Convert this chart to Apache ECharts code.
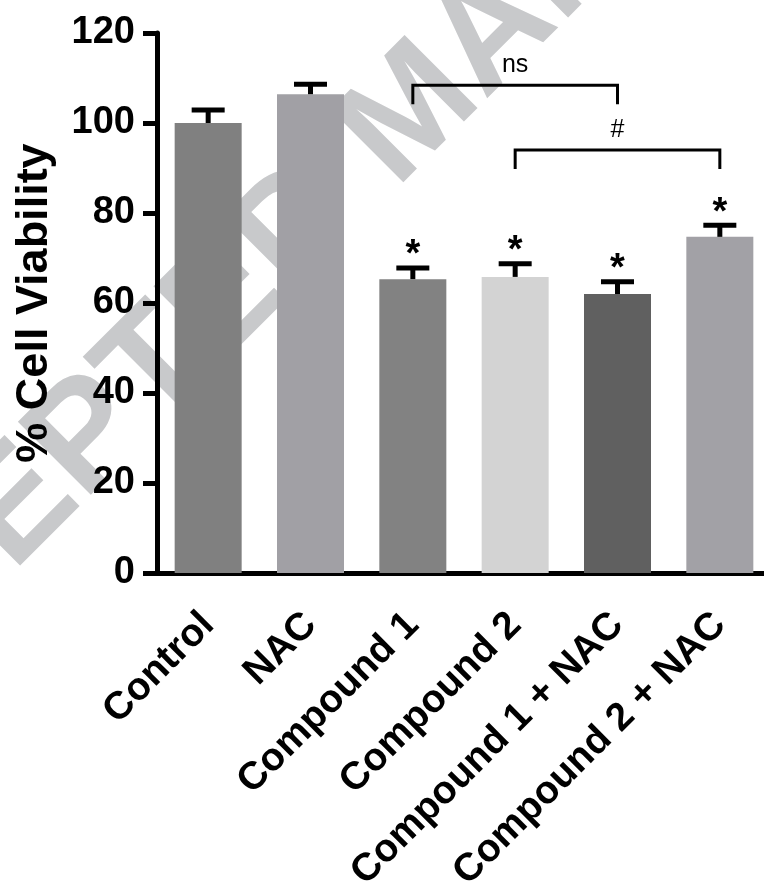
<!DOCTYPE html>
<html>
<head>
<meta charset="utf-8">
<script src="https://cdn.jsdelivr.net/npm/echarts@6/dist/echarts.min.js"></script>
<style>
html,body{margin:0;padding:0;background:#fff;}
#chart{width:764px;height:890px;}
</style>
</head>
<body>
<div id="chart"></div>
<script>
// ---- data ----
const categories = ['Control', 'NAC', 'Compound 1', 'Compound 2', 'Compound 1 + NAC', 'Compound 2 + NAC'];
const viability = [100, 106.4, 65.3, 65.8, 62.0, 74.7];
const sem = [2.9, 2.2, 2.5, 2.9, 2.7, 2.6];
const barColors = ['#808080', '#a1a0a5', '#828282', '#d3d3d3', '#606060', '#a2a1a6'];
const sigMarks = ['', '', '*', '*', '*', '*'];
const bracketFrom = [2, 3];
const bracketTo = [4, 5];
const bracketLevel = [108.4, 94.0];
const bracketLabels = ['ns', '#'];
const yMin = 0, yMax = 120, yStep = 20;

const FONT = "'Liberation Sans', Arial, Helvetica, sans-serif";
const chart = echarts.init(document.getElementById('chart'));

const errData = categories.map((c, i) => [i, viability[i], sem[i]]);
const sigData = categories.map((c, i) => [i, viability[i] + sem[i], sigMarks[i]]);
const brData = bracketFrom.map((f, i) => [f, bracketTo[i], bracketLevel[i], bracketLabels[i]]);

chart.setOption({
  backgroundColor: '#fff',
  animation: false,
  graphic: [{
    type: 'text',
    x: 414, y: 113,
    rotation: Math.PI / 4,
    z: -100,
    silent: true,
    style: {
      text: 'ACCEPTED MANUSCRIPT',
      fontSize: 150,
      fontWeight: 'bold',
      fontFamily: FONT,
      fill: '#c8c9cb',
      align: 'center',
      verticalAlign: 'middle'
    }
  }],
  grid: { left: 157, top: 33, width: 614, height: 540, containLabel: false, outerBoundsMode: 'none' },
  xAxis: {
    type: 'category',
    data: categories,
    axisLine: { lineStyle: { color: '#000', width: 5 } },
    axisTick: { alignWithLabel: true, length: 15, lineStyle: { color: '#000', width: 5 } },
    axisLabel: {
      interval: 0, rotate: 45, margin: 46,
      color: '#000', fontSize: 39, fontWeight: 'bold', fontFamily: FONT
    }
  },
  yAxis: {
    type: 'value',
    min: yMin, max: yMax, interval: yStep,
    name: '% Cell Viability',
    nameLocation: 'middle',
    nameGap: 100,
    nameTextStyle: { color: '#000', fontSize: 45, fontWeight: 'bold', fontFamily: FONT },
    splitLine: { show: false },
    axisLine: { show: true, lineStyle: { color: '#000', width: 5 } },
    axisTick: { show: true, length: 14, lineStyle: { color: '#000', width: 5 } },
    axisLabel: { margin: 22, color: '#000', fontSize: 38, fontWeight: 'bold', fontFamily: FONT }
  },
  series: [
    {
      type: 'bar',
      data: viability.map((v, i) => ({ value: v, itemStyle: { color: barColors[i] } })),
      barWidth: 67,
      z: 2
    },
    {
      type: 'custom',
      data: errData,
      encode: { x: 0, y: 1 },
      z: 3,
      renderItem: function (params, api) {
        const x = api.value(0), v = api.value(1), e = api.value(2);
        const b = api.coord([x, v]);
        const t = api.coord([x, v + e]);
        return {
          type: 'group',
          children: [
            { type: 'line', shape: { x1: b[0], y1: b[1], x2: t[0], y2: t[1] }, style: { stroke: '#000', lineWidth: 5 } },
            { type: 'line', shape: { x1: t[0] - 16.5, y1: t[1], x2: t[0] + 16.5, y2: t[1] }, style: { stroke: '#000', lineWidth: 5 } }
          ]
        };
      }
    },
    {
      type: 'custom',
      data: sigData,
      encode: { x: 0, y: 1 },
      z: 3,
      renderItem: function (params, api) {
        const p = api.coord([api.value(0), api.value(1)]);
        const mark = sigMarks[params.dataIndex];
        return {
          type: 'text',
          style: {
            text: mark, x: p[0], y: p[1] - 12,
            align: 'center', verticalAlign: 'middle',
            fontSize: 38, fontWeight: 'bold', fontFamily: FONT, fill: '#000'
          }
        };
      }
    },
    {
      type: 'custom',
      data: brData,
      encode: { x: [0, 1], y: 2 },
      z: 3,
      renderItem: function (params, api) {
        const a = api.coord([api.value(0), api.value(2)]);
        const b = api.coord([api.value(1), api.value(2)]);
        const leg = 19;
        return {
          type: 'group',
          children: [
            { type: 'polyline', shape: { points: [[a[0], a[1] + leg], [a[0], a[1]], [b[0], b[1]], [b[0], b[1] + leg]] },
              style: { stroke: '#000', lineWidth: 3, fill: null } },
            { type: 'text', style: { text: bracketLabels[params.dataIndex], x: (a[0] + b[0]) / 2, y: a[1] - 20,
              align: 'center', verticalAlign: 'middle', fontSize: 25, fontFamily: FONT, fill: '#000' } }
          ]
        };
      }
    }
  ]
});
</script>
</body>
</html>
